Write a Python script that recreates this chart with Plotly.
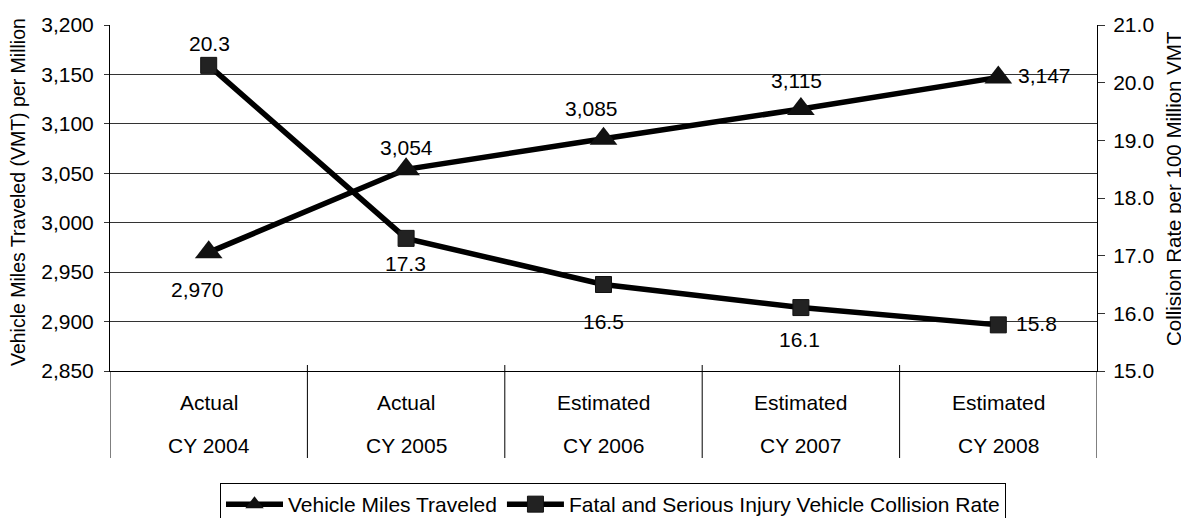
import plotly.graph_objects as go

# ---- data ----
years = ["CY 2004", "CY 2005", "CY 2006", "CY 2007", "CY 2008"]
status = ["Actual", "Actual", "Estimated", "Estimated", "Estimated"]
vmt = [2970, 3054, 3085, 3115, 3147]
rate = [20.3, 17.3, 16.5, 16.1, 15.8]
vmt_ticks = [2850, 2900, 2950, 3000, 3050, 3100, 3150, 3200]
rate_ticks = [15.0, 16.0, 17.0, 18.0, 19.0, 20.0, 21.0]

# ---- label offsets (style, px) ----
vmt_dx = [-11, 0, -12, -4, 46]
vmt_dy = [-37, 22, 30, 29, 2]
rate_dx = [1, -1, 0, -1, 38]
rate_dy = [22, -25, -37, -32, 1]

FONT = "Liberation Sans, Arial, sans-serif"
FS = 21
# page has an 8px body margin: figure is placed at (8, 8)
OX, OY = 8, 8
W, H = 1189 - OX, 518 - OY
L, T = 110 - OX, 25 - OY
R = W - (1097 - OX)
B = H - (371 - OY)
PW, PH = W - L - R, H - T - B


def px_x(px):
    return (px - OX - L) / PW


def px_y(py):
    return (H - B - (py - OY)) / PH


xs = list(range(len(years)))

fig = go.Figure()
fig.add_trace(go.Scatter(
    x=xs, y=vmt, name="Vehicle Miles Traveled", mode="lines+markers",
    line=dict(color="black", width=5.5),
    marker=dict(symbol="triangle-up", size=24, color="#111", line=dict(width=0)),
    yaxis="y"))
fig.add_trace(go.Scatter(
    x=xs, y=rate, name="Fatal and Serious Injury Vehicle Collision Rate",
    mode="lines+markers",
    line=dict(color="black", width=5.5),
    marker=dict(symbol="square", size=16, color="#222", line=dict(width=1, color="#111")),
    yaxis="y2"))

annotations = []
for i in xs:
    annotations.append(dict(x=i, y=vmt[i], xref="x", yref="y", text=f"{vmt[i]:,}",
                            showarrow=False, xshift=vmt_dx[i], yshift=vmt_dy[i],
                            xanchor="center", yanchor="middle", font=dict(size=FS)))
    annotations.append(dict(x=i, y=rate[i], xref="x", yref="y2", text=f"{rate[i]:.1f}",
                            showarrow=False, xshift=rate_dx[i], yshift=rate_dy[i],
                            xanchor="center", yanchor="middle", font=dict(size=FS)))
    annotations.append(dict(x=i, y=px_y(402), xref="x", yref="paper", text=status[i],
                            showarrow=False, xanchor="center", yanchor="middle",
                            font=dict(size=FS)))
    annotations.append(dict(x=i, y=px_y(445), xref="x", yref="paper", text=years[i],
                            showarrow=False, xanchor="center", yanchor="middle",
                            font=dict(size=FS)))

annotations.append(dict(x=px_x(18), y=px_y(192), xref="paper", yref="paper",
                        text="Vehicle Miles Traveled (VMT) per Million", textangle=-90,
                        showarrow=False, xanchor="center", yanchor="middle",
                        font=dict(size=19.5)))
annotations.append(dict(x=px_x(1173), y=px_y(189), xref="paper", yref="paper",
                        text="Collision Rate per 100 Million VMT", textangle=-90,
                        showarrow=False, xanchor="center", yanchor="middle",
                        font=dict(size=20.5)))

shapes = []
for b in [0.5, 1.5, 2.5, 3.5]:
    shapes.append(dict(type="line", xref="x", yref="paper", x0=b, x1=b,
                       y0=px_y(458), y1=px_y(365), line=dict(color="black", width=1)))
for b in [-0.5, 4.5]:
    shapes.append(dict(type="line", xref="x", yref="paper", x0=b, x1=b,
                       y0=px_y(458), y1=0, line=dict(color="black", width=1)))

fig.update_layout(
    width=W, height=H,
    margin=dict(l=L, r=R, t=T, b=B, autoexpand=False),
    paper_bgcolor="white", plot_bgcolor="white",
    font=dict(family=FONT, size=FS, color="black"),
    showlegend=True,
    legend=dict(orientation="h", x=px_x(220), xanchor="left", y=px_y(483), yanchor="top",
                bordercolor="black", borderwidth=1, font=dict(size=FS),
                itemwidth=57, bgcolor="white"),
    xaxis=dict(range=[-0.5, 4.5], showgrid=False, showticklabels=False, ticks="",
               zeroline=False, showline=True, linecolor="black", linewidth=1),
    yaxis=dict(range=[2850, 3200], tickvals=vmt_ticks, tickformat=",",
               showgrid=True, gridcolor="#333", gridwidth=1,
               ticks="outside", ticklen=5, tickcolor="#333",
               showline=True, linecolor="black", zeroline=False,
               ticklabelstandoff=6),
    yaxis2=dict(range=[15, 21], tickvals=rate_ticks, tickformat=".1f",
                overlaying="y", side="right", showgrid=False,
                ticks="outside", ticklen=7, tickcolor="#333",
                showline=True, linecolor="black", zeroline=False,
                ticklabelstandoff=4),
    annotations=annotations,
    shapes=shapes,
)

fig.write_html("out.html")
